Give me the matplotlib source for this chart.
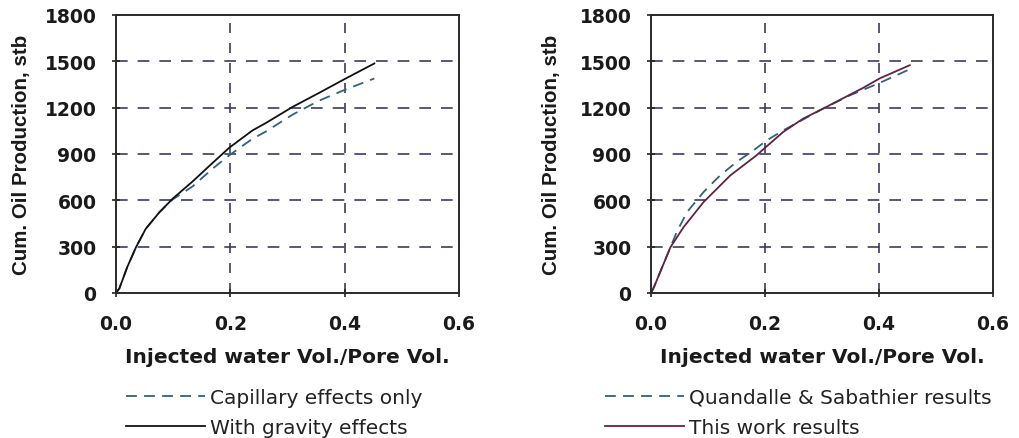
import matplotlib
matplotlib.use("Agg")
import matplotlib.pyplot as plt

# left chart: capillary vs gravity
pv_grav = [0, 0.006, 0.02, 0.035, 0.052, 0.076, 0.099, 0.134, 0.169, 0.198, 0.239, 0.262, 0.309, 0.355, 0.402, 0.452]
oil_grav = [0, 30, 170, 296, 415, 523, 610, 722, 842, 940, 1053, 1100, 1205, 1295, 1389, 1486]
pv_cap = [0, 0.006, 0.02, 0.035, 0.052, 0.076, 0.099, 0.134, 0.169, 0.198, 0.239, 0.262, 0.309, 0.355, 0.402, 0.452]
oil_cap = [0, 30, 170, 296, 415, 523, 605, 690, 805, 891, 999, 1045, 1155, 1245, 1318, 1389]

# right chart: Quandalle & Sabathier vs this work
pv_work = [0, 0.005, 0.034, 0.057, 0.092, 0.139, 0.185, 0.203, 0.232, 0.267, 0.302, 0.372, 0.401, 0.454]
oil_work = [0, 37, 296, 426, 588, 761, 891, 950, 1043, 1129, 1194, 1328, 1389, 1475]
pv_qs = [0, 0.005, 0.034, 0.045, 0.063, 0.092, 0.121, 0.15, 0.18, 0.203, 0.232, 0.302, 0.349, 0.401, 0.457]
oil_qs = [0, 37, 296, 394, 523, 653, 761, 848, 924, 988, 1053, 1194, 1280, 1360, 1454]

xticks = [0.0, 0.2, 0.4, 0.6]
yticks = [0, 300, 600, 900, 1200, 1500, 1800]

grid_col = "#3c3c5e"
dash_col = "#35607a"

fig = plt.figure(figsize=(10.19, 4.39), dpi=100)
ax1 = fig.add_axes([0.1138, 0.3303, 0.3366, 0.6333])
ax2 = fig.add_axes([0.6389, 0.3303, 0.3356, 0.6333])


def style(ax, ylab_x):
    ax.set_xlim(0, 0.6)
    ax.set_ylim(0, 1800)
    ax.set_xticks(xticks)
    ax.set_yticks(yticks)
    ax.set_xticklabels(["%.1f" % t for t in xticks])
    ax.tick_params(axis="both", direction="inout", length=6, width=1.2, color="#222222",
                   labelsize=13.5, labelcolor="#1a1a1a")
    ax.tick_params(axis="x", pad=12)
    ax.tick_params(axis="y", pad=11)
    for lab in ax.get_xticklabels() + ax.get_yticklabels():
        lab.set_fontweight("bold")
        lab.set_family("DejaVu Sans")
    for s in ax.spines.values():
        s.set_color("#2a2a2a")
        s.set_linewidth(1.4)
    for v in [300, 600, 900, 1200, 1500]:
        ax.axhline(v, color=grid_col, lw=1.2, dashes=(7, 6), zorder=0)
    for v in [0.2, 0.4]:
        ax.axvline(v, color=grid_col, lw=1.2, dashes=(6, 6), zorder=0)
    ax.set_xlabel("Injected water Vol./Pore Vol.", fontsize=14.5, fontweight="bold",
                  family="DejaVu Sans", color="#1a1a1a")
    ax.xaxis.set_label_coords(0.5, -0.195)
    ax.set_ylabel("Cum. Oil Production, stb", fontsize=14.8, fontweight="bold",
                  family="Liberation Sans", color="#1a1a1a")
    ax.yaxis.set_label_coords(ylab_x, 0.5)


style(ax1, -0.248)
style(ax2, -0.263)

l1, = ax1.plot(pv_cap, oil_cap, color=dash_col, lw=1.3, dashes=(6, 4), label="Capillary effects only")
l2, = ax1.plot(pv_grav, oil_grav, color="#111111", lw=1.3, label="With gravity effects")
r1, = ax2.plot(pv_qs, oil_qs, color=dash_col, lw=1.3, dashes=(6, 4), label="Quandalle & Sabathier results")
r2, = ax2.plot(pv_work, oil_work, color="#5e2442", lw=1.3, label="This work results")

for handles, x in [([l1, l2], 126 / 1019), ([r1, r2], 605 / 1019)]:
    leg = fig.legend(handles=handles, loc="upper left", bbox_to_anchor=(x, 1 - 389 / 439),
                     frameon=False, handlelength=3.9, handletextpad=0.25,
                     borderpad=0, borderaxespad=0, labelspacing=0.55,
                     prop={"family": "DejaVu Sans", "size": 14.5})
    for t in leg.get_texts():
        t.set_color("#222222")

fig.savefig("out.png", dpi=100)
